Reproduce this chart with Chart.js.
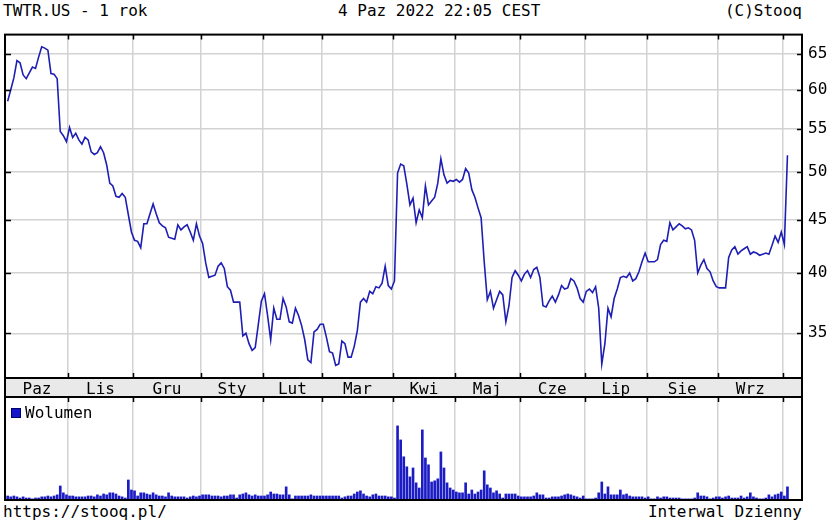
<!DOCTYPE html>
<html>
<head>
<meta charset="utf-8">
<script src="https://cdn.jsdelivr.net/npm/chart.js@4.4.0/dist/chart.umd.min.js"></script>
<style>
  body { margin:0; background:#fff; width:830px; height:525px; position:relative; overflow:hidden;
         font-family:"DejaVu Sans Mono", monospace; font-size:16px; color:#000; }
  .t { position:absolute; white-space:pre; line-height:1; }
  #cena { position:absolute; left:0; top:19px; }
  #wol  { position:absolute; left:0; top:396px; }
  .kw { position:absolute; left:11px; top:408px; width:8px; height:8px; background:#1414c8; border:1px solid #00006a; }
</style>
</head>
<body>
<div class="t" style="left:3px;top:3px">TWTR.US - 1 rok</div>
<div class="t" style="left:338px;top:3px">4 Paz 2022 22:05 CEST</div>
<div class="t" style="right:28px;top:3px">(C)Stooq</div>

<canvas id="cena" width="830" height="379"></canvas>
<canvas id="wol" width="830" height="105"></canvas>

<div class="kw"></div>
<div class="t" style="left:25px;top:405px">Wolumen</div>
<div class="t" style="left:3px;top:504px">https://stooq.pl/</div>
<div class="t" style="right:28px;top:504px">Interwal Dzienny</div>

<script>
// miesiące i indeks pierwszej sesji w każdym z nich (paz 2021 - paz 2022)
const miesiace = ['Paz','Lis','Gru','Sty','Lut','Mar','Kwi','Maj','Cze','Lip','Sie','Wrz',''];
const poczatekMiesiaca = [0, 20, 41, 63, 83, 102, 125, 145, 166, 187, 207, 230, 251];

// kurs zamknięcia (USD), sesje dzienne
const notowania = [
  58.5,60.0,61.6,64.0,63.7,62.0,61.5,62.3,63.1,62.9,
  64.5,66.0,65.8,65.5,62.2,62.1,61.5,54.7,54.2,53.5,
  55.2,54.0,54.5,53.7,53.2,54.0,53.7,52.3,52.0,52.2,
  52.9,52.2,50.8,48.8,48.5,47.4,47.3,47.7,47.3,45.5,
  43.8,43.0,42.9,42.3,44.6,44.6,45.6,46.6,45.6,44.7,
  44.4,44.2,43.3,43.2,43.1,44.5,44.0,44.3,44.5,43.8,
  43.0,44.6,43.4,42.7,40.9,39.6,39.7,39.8,40.6,40.9,
  40.4,38.8,38.5,37.5,37.5,37.5,34.8,35.0,34.2,33.7,
  33.9,35.7,37.6,38.2,36.4,34.5,37.0,36.1,36.1,37.8,
  37.1,35.9,35.8,37.0,36.4,35.6,34.5,33.0,32.8,35.1,
  35.3,35.7,35.7,34.7,33.6,33.5,32.6,32.7,34.4,34.2,
  33.2,33.2,34.0,35.2,37.5,37.8,37.5,38.4,38.2,38.8,
  38.7,39.1,40.6,38.9,38.6,39.3,49.9,50.9,50.7,48.7,
  46.5,47.2,44.7,46.0,45.2,48.5,46.5,46.9,47.3,48.8,
  51.5,49.7,48.8,49.1,49.0,49.2,48.9,49.2,50.4,49.9,
  48.1,47.3,46.2,45.2,41.0,37.7,38.4,37.0,37.7,38.4,
  38.1,35.9,37.2,39.6,40.2,39.8,39.3,39.9,40.2,39.6,
  40.3,40.5,39.6,37.2,37.1,37.6,38.0,37.5,38.1,38.9,
  38.6,38.7,39.5,39.3,38.7,37.8,37.5,38.4,38.6,38.3,
  38.8,37.0,32.7,34.2,37.0,36.3,37.8,38.6,39.6,39.7,
  39.6,40.0,39.3,39.5,40.1,41.0,41.8,41.0,41.0,41.0,
  41.2,42.6,43.0,42.9,44.7,44.0,44.3,44.6,44.4,44.1,
  44.2,44.0,43.0,40.0,40.7,41.2,40.4,40.1,39.3,38.8,
  38.7,38.7,38.7,41.4,42.1,42.4,41.7,42.0,42.2,42.4,
  41.7,41.9,41.8,41.6,41.7,41.8,41.7,42.5,43.4,42.8,
  43.8,42.6,51.9
];

// wolumen (mln akcji)
const wolumen = [
  14,11,14,11,7,11,7,7,4,7,
  7,11,11,14,11,14,18,49,25,18,
  14,14,11,11,11,11,14,14,11,18,
  14,21,18,25,25,21,14,11,7,70,
  35,32,14,25,25,21,18,25,18,14,
  14,11,25,14,11,11,11,11,7,11,
  14,11,14,18,18,18,14,14,14,11,
  14,14,18,18,7,18,21,25,18,14,
  18,14,14,14,18,28,21,21,18,18,
  46,18,4,14,14,14,14,14,18,14,
  14,14,14,14,14,14,14,14,7,11,
  14,14,21,28,32,21,14,11,18,21,
  14,14,14,11,11,7,259,210,151,116,
  81,112,60,42,245,147,123,63,67,74,
  168,112,60,42,35,28,25,25,60,21,
  35,21,28,35,102,53,42,25,32,21,
  7,21,21,21,21,14,11,11,11,11,
  14,25,18,18,7,7,11,11,11,14,
  18,21,18,14,11,7,14,4,4,4,
  7,25,63,21,46,18,18,18,35,18,
  21,14,11,11,11,11,7,11,4,4,
  11,7,11,11,7,7,7,7,4,4,
  4,4,7,25,14,14,11,4,7,11,
  11,7,11,14,7,7,7,14,7,11,
  25,11,7,4,4,7,18,11,18,21,
  28,14,46
];

// opisy osi ceny
const poziomyCeny = [35, 40, 45, 50, 55, 60, 65];

Chart.defaults.font.family = '"DejaVu Sans Mono", monospace';
Chart.defaults.font.size = 16;
Chart.defaults.color = '#000';

const SIATKA = '#d2d2d2';
const X_MIN = -0.86, X_MAX = 256.7;

// granice miesięcy (linie siatki) + środki miesięcy (podpisy)
function ticksMiesiecy() {
  const t = [];
  poczatekMiesiaca.forEach((s, k) => {
    if (k > 0) t.push({ value: s - 0.5, granica: true });
    const kon = k + 1 < poczatekMiesiaca.length ? poczatekMiesiaca[k + 1] : notowania.length;
    if (miesiace[k]) t.push({ value: (s + kon - 1) / 2, nazwa: miesiace[k] });
  });
  return t;
}

// ramka wykresu, szary pasek z miesiącami, kreski do środka
const ramka = {
  id: 'ramka',
  beforeDraw(ch, args, o) {
    if (!o.pasek) return;
    const { ctx, chartArea: a } = ch;
    ctx.save();
    ctx.fillStyle = '#e9e9e9';
    ctx.fillRect(a.left, a.bottom, a.right - a.left, o.pasek);
    ctx.restore();
  },
  afterDraw(ch, args, o) {
    const { ctx, chartArea: a } = ch;
    ctx.save();
    ctx.strokeStyle = '#000';
    ctx.lineWidth = 2;
    ctx.strokeRect(a.left, a.top, a.right - a.left, a.bottom - a.top);
    if (o.pasek) ctx.strokeRect(a.left, a.bottom, a.right - a.left, o.pasek);
    ctx.lineWidth = 1.5;
    ctx.beginPath();
    ch.scales.x.ticks.forEach(t => {
      if (!t.granica) return;
      const px = Math.round(ch.scales.x.getPixelForValue(t.value)) + 0.5;
      ctx.moveTo(px, a.top); ctx.lineTo(px, a.top + 5);
      if (o.pasek) { ctx.moveTo(px, a.bottom); ctx.lineTo(px, a.bottom - 5); }
    });
    if (ch.scales.y.type === 'logarithmic') {
      ch.scales.y.ticks.forEach(t => {
        const py = Math.round(ch.scales.y.getPixelForValue(t.value)) + 0.5;
        ctx.moveTo(a.left, py); ctx.lineTo(a.left + 6, py);
        ctx.moveTo(a.right, py); ctx.lineTo(a.right - 5, py);
      });
    }
    ctx.stroke();
    ctx.restore();
  }
};

// 1. KURS
new Chart(document.getElementById('cena'), {
  type: 'line',
  data: {
    datasets: [{
      data: notowania.map((v, i) => ({ x: i, y: v })),
      borderColor: '#1e1eb4',
      borderWidth: 1.6,
      pointRadius: 0,
      tension: 0
    }]
  },
  options: {
    responsive: false,
    animation: false,
    layout: { padding: { left: 5, top: 2, right: 0, bottom: 1 } },
    plugins: { legend: { display: false }, tooltip: { enabled: false }, ramka: { pasek: 19 } },
    scales: {
      x: {
        type: 'linear', min: X_MIN, max: X_MAX,
        afterBuildTicks: ax => { ax.ticks = ticksMiesiecy(); },
        afterFit: ax => { ax.height = 19; },
        grid: { color: c => (c.tick && c.tick.granica) ? SIATKA : 'rgba(0,0,0,0)', lineWidth: 1.5, drawTicks: false },
        border: { display: false },
        ticks: { autoSkip: false, maxRotation: 0, padding: 2, callback: (v, i, t) => t[i].nazwa || '' }
      },
      y: {
        type: 'logarithmic', position: 'right', min: 31.7, max: 67.8,
        afterBuildTicks: ax => { ax.ticks = poziomyCeny.map(v => ({ value: v })); },
        afterFit: ax => { ax.width = 28; },
        grid: { color: SIATKA, lineWidth: 1.5, drawTicks: false },
        border: { display: false },
        ticks: { padding: 6, callback: v => v }
      }
    }
  },
  plugins: [ramka]
});

// 2. WOLUMEN
new Chart(document.getElementById('wol'), {
  type: 'bar',
  data: {
    datasets: [{
      data: wolumen.map((v, i) => ({ x: i, y: v })),
      backgroundColor: '#1c1cc4',
      barThickness: 2
    }]
  },
  options: {
    responsive: false,
    animation: false,
    layout: { padding: { left: 5, top: 1, right: 28, bottom: 1 } },
    plugins: { legend: { display: false }, tooltip: { enabled: false }, ramka: {} },
    scales: {
      x: {
        type: 'linear', min: X_MIN, max: X_MAX, offset: false,
        afterBuildTicks: ax => { ax.ticks = ticksMiesiecy(); },
        afterFit: ax => { ax.height = 0; },
        grid: { offset: false, color: c => (c.tick && c.tick.granica) ? SIATKA : 'rgba(0,0,0,0)', lineWidth: 1.5, drawTicks: false },
        border: { display: false },
        ticks: { display: false }
      },
      y: { display: false, min: 0, max: 360 }
    }
  },
  plugins: [ramka]
});
</script>
</body>
</html>
